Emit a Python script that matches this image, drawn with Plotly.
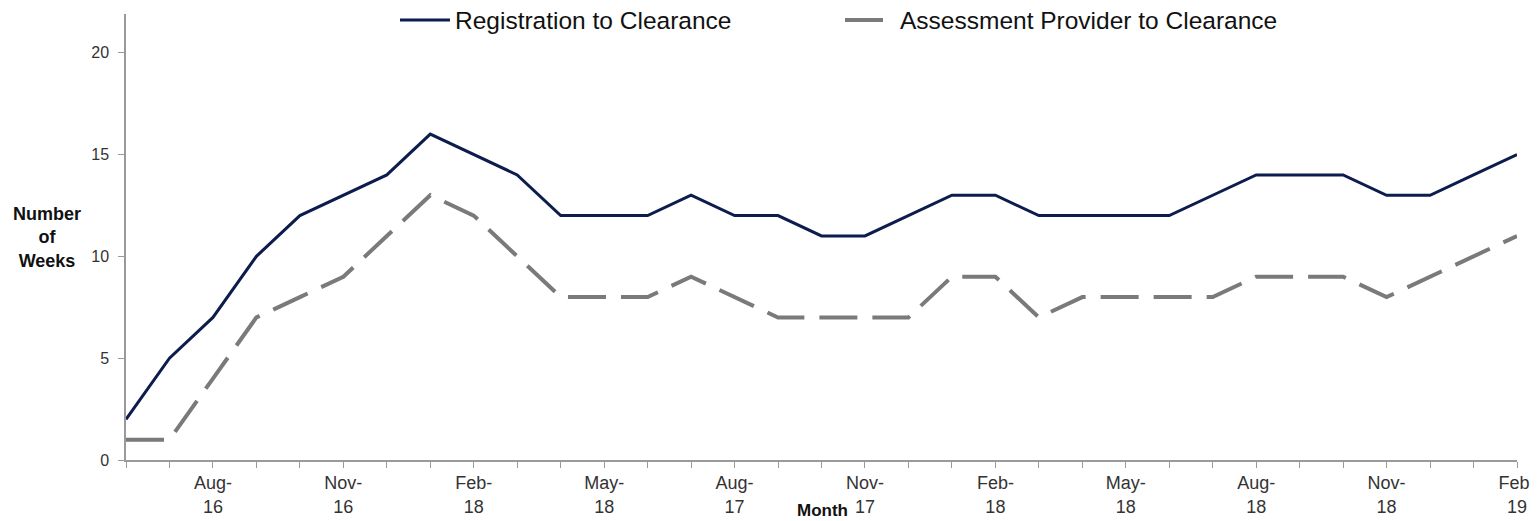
import plotly.graph_objects as go

months = ["Jun-16", "Jul-16", "Aug-16", "Sep-16", "Oct-16", "Nov-16", "Dec-16",
          "Jan-17", "Feb-17", "Mar-17", "Apr-17", "May-17", "Jun-17", "Jul-17",
          "Aug-17", "Sep-17", "Oct-17", "Nov-17", "Dec-17", "Jan-18", "Feb-18",
          "Mar-18", "Apr-18", "May-18", "Jun-18", "Jul-18", "Aug-18", "Sep-18",
          "Oct-18", "Nov-18", "Dec-18", "Jan-19", "Feb-19"]

tick_labels = ["", "", "Aug-<br>16", "", "", "Nov-<br>16", "", "", "Feb-<br>18", "", "",
               "May-<br>18", "", "", "Aug-<br>17", "", "", "Nov-<br>17", "", "",
               "Feb-<br>18", "", "", "May-<br>18", "", "", "Aug-<br>18", "", "",
               "Nov-<br>18", "", "", "Feb-<br>19"]

registration = [2, 5, 7, 10, 12, 13, 14, 16, 15, 14, 12, 12, 12, 13, 12, 12, 11,
                11, 12, 13, 13, 12, 12, 12, 12, 13, 14, 14, 14, 13, 13, 14, 15]

assessment = [1, 1, 4, 7, 8, 9, 11, 13, 12, 10, 8, 8, 8, 9, 8, 7, 7,
              7, 7, 9, 9, 7, 8, 8, 8, 8, 9, 9, 9, 8, 9, 10, 11]

FONT = "Liberation Sans, Arial, sans-serif"

fig = go.Figure()
fig.add_trace(go.Scatter(x=months, y=registration, mode="lines",
                         name="Registration to Clearance",
                         line=dict(color="#0c1c4c", width=3)))
fig.add_trace(go.Scatter(x=months, y=assessment, mode="lines",
                         name="Assessment Provider to Clearance",
                         line=dict(color="#7a7a7a", width=4, dash="38px,15px")))

fig.update_layout(
    width=1538, height=521,
    margin=dict(l=118, r=29, t=6, b=69, autoexpand=False),
    paper_bgcolor="white", plot_bgcolor="white",
    font=dict(family=FONT, color="#333333"),
    legend=dict(orientation="h", x=0.5133, xanchor="center",
                yref="container", y=1 - 12 / 521, yanchor="middle",
                font=dict(size=24.5, color="#111111", family=FONT),
                bgcolor="rgba(0,0,0,0)", entrywidth=380, itemwidth=50),
    showlegend=True,
)

fig.update_xaxes(type="category", range=[0, 32], tickmode="array",
                 tickvals=months, ticktext=tick_labels, automargin=False,
                 showgrid=False, zeroline=False,
                 showline=True, linecolor="#9a9a9a", linewidth=1.5,
                 ticks="outside", ticklen=6, tickcolor="#9a9a9a", tickwidth=1,
                 tickangle=0, tickfont=dict(size=18, color="#333333", family=FONT))
fig.update_yaxes(range=[0, 21.9], tickvals=[0, 5, 10, 15, 20], automargin=False,
                 showgrid=False, zeroline=False,
                 showline=True, linecolor="#9a9a9a", linewidth=1.5,
                 ticks="outside", ticklen=6, tickcolor="#9a9a9a",
                 ticklabelstandoff=6,
                 tickfont=dict(size=16, color="#333333", family=FONT))

fig.add_annotation(text="<b>Number<br>of<br>Weeks</b>", xref="paper", yref="paper",
                   x=-0.0568, y=0.5, xanchor="center", yanchor="middle",
                   showarrow=False, font=dict(size=18, color="#111111", family=FONT))
fig.add_annotation(text="<b>Month</b>", xref="paper", yref="paper",
                   x=0.501, y=-0.114, xanchor="center", yanchor="middle",
                   showarrow=False, font=dict(size=17, color="#111111", family=FONT))

fig.write_html("out.html")
